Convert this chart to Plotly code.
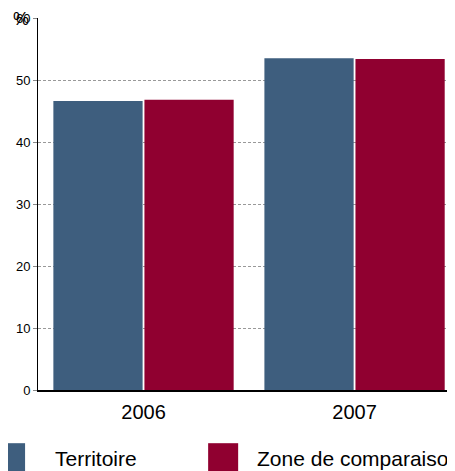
import plotly.graph_objects as go

years = ["2006", "2007"]
series_names = ["Territoire", "Zone de comparaison"]
territoire = [46.6, 53.5]
zone = [46.8, 53.4]
colors = ["#3e5e7e", "#900030"]

fig = go.Figure()
for name, vals, col in zip(series_names, [territoire, zone], colors):
    fig.add_trace(go.Bar(x=years, y=vals, name=name, marker_color=col,
                         marker_line_width=0, showlegend=False))

# hand-made legend with large squares, as in the original
leg_x = [-0.103, 0.408]
txt_x = [0.036, 0.520]
for i, (name, col) in enumerate(zip(series_names, colors)):
    fig.add_shape(type="rect", xref="paper", yref="paper",
                  x0=leg_x[i], x1=leg_x[i] + 0.072, y0=-0.143, y1=-0.226,
                  fillcolor=col, line_width=0)
    fig.add_annotation(xref="paper", yref="paper", x=txt_x[i], y=-0.183,
                       text=name, showarrow=False, xanchor="left",
                       yanchor="middle", font=dict(size=21, color="#000"))

fig.add_annotation(xref="paper", yref="paper", x=-0.041, y=1.0, text="%",
                   showarrow=False, xanchor="center", yanchor="top", yshift=11,
                   font=dict(size=18, color="#000"))

# page body has an 8px margin, so the figure is 8px smaller on each axis
fig.update_layout(
    width=447, height=463,
    margin=dict(l=30, r=0, t=10, b=81),
    barmode="group", bargap=0.137, bargroupgap=0.02,
    plot_bgcolor="white", paper_bgcolor="white",
    font=dict(family="Liberation Sans, Arial, sans-serif", color="#000"),
    xaxis=dict(type="category", range=[-0.5, 1.476], showline=True,
               linecolor="#000", linewidth=2, ticks="", showgrid=False,
               tickfont=dict(size=20), ticklabelstandoff=3),
    yaxis=dict(range=[0, 60], dtick=10, showline=True, linecolor="#000",
               linewidth=1, ticks="outside", ticklen=4, tickcolor="#888",
               gridcolor="#999", griddash="3px,2px", gridwidth=1,
               zeroline=False, tickfont=dict(size=13)),
)

fig.write_html("out.html")
